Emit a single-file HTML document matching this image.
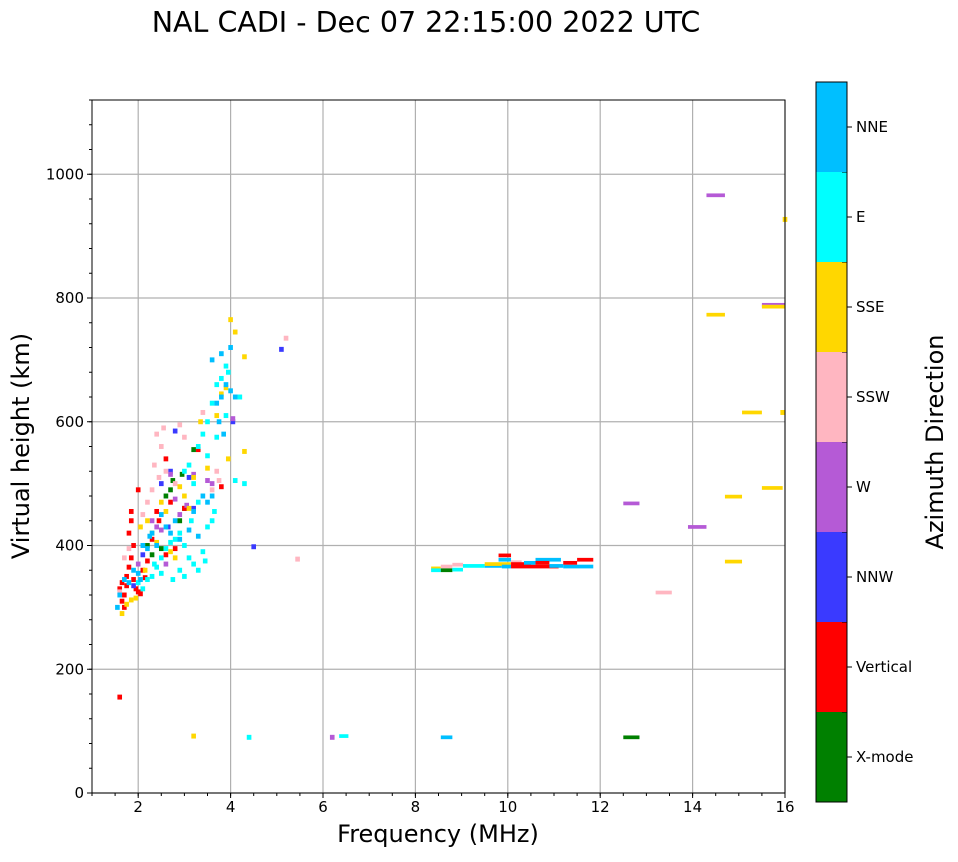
<!DOCTYPE html>
<html><head><meta charset="utf-8"><style>
body{margin:0;background:#fff;font-family:"Liberation Sans",sans-serif}
svg text{font-family:"DejaVu Sans","Liberation Sans",sans-serif}
</style></head><body>
<svg id="chart" width="958" height="857" xmlns="http://www.w3.org/2000/svg">
<text x="426" y="32" font-size="28.5" text-anchor="middle">NAL CADI - Dec 07 22:15:00 2022 UTC</text>
<g id="grid"></g>
<g id="marks"></g>
<rect x="92" y="100" width="693" height="693" fill="none" stroke="#000" stroke-width="1"/>
<g id="axes"></g>
<text x="438" y="842" font-size="24" text-anchor="middle">Frequency (MHz)</text>
<text transform="translate(29,446) rotate(-90)" font-size="24" text-anchor="middle">Virtual height (km)</text>
<g id="cbar"></g>
<text transform="translate(943,442) rotate(-90)" font-size="24" text-anchor="middle">Azimuth Direction</text>
</svg>
<script>
const dirNames=["X-mode","Vertical","NNW","W","SSW","SSE","E","NNE"];
const dirColors=["#008000","#ff0000","#3a3aff","#b55ad6","#ffb6c1","#ffd700","#00ffff","#00bfff"];
const xTicks=[2,4,6,8,10,12,14,16];
const yTicks=[0,200,400,600,800,1000];
// cell points per direction
const xmodeF=[2.2,2.3,2.5,2.6,2.7,2.75,2.9,3.0,2.95,3.2];
const xmodeH=[400,385,395,480,490,505,440,460,515,555];
const vertF=[1.6,1.65,1.7,1.75,1.8,1.85,1.8,1.85,1.9,1.7,1.65,1.75,1.95,2.0,2.05,2.0,2.2,2.3,2.4,2.45,2.6,2.7,2.6,2.8,3.0,3.3,3.8,1.6,1.85,2.1,1.9,2.15];
const vertH=[330,340,320,350,365,380,420,440,400,300,310,335,330,325,322,490,375,410,455,440,540,470,385,395,460,555,495,155,455,360,345,348];
const nnwF=[1.9,2.1,2.5,2.65,2.8,3.1,3.2,4.05,4.5,5.1,2.7];
const nnwH=[335,385,500,430,585,510,460,600,398,717,520];
const wF=[2.3,2.4,2.5,2.7,2.8,2.9,3.2,3.5,3.6,4.05,2.6,2.0,3.05,6.2];
const wH=[440,430,425,515,475,450,515,505,500,605,370,370,465,90];
const sswF=[1.7,1.8,2.2,2.3,2.4,2.5,2.6,2.55,2.8,3.0,2.9,3.4,3.7,3.75,5.2,5.45,2.1,2.35,3.6,1.6,2.45];
const sswH=[380,395,470,490,580,560,520,590,500,575,595,615,520,505,735,378,450,530,490,325,510];
const sseF=[1.65,1.75,1.85,2.05,2.2,2.3,2.4,2.5,2.6,2.7,2.8,2.9,3.0,3.1,3.2,3.5,3.7,3.8,3.9,4.0,4.1,4.3,4.3,3.95,1.95,2.15,3.35,3.2,16.0,15.95];
const sseH=[290,305,312,430,440,420,405,470,455,390,380,495,480,460,510,525,610,645,655,765,745,705,552,540,315,360,600,92,927,615];
const eF=[2.0,2.1,2.2,2.3,2.4,2.5,2.6,2.7,2.8,2.9,3.0,3.1,3.2,3.3,3.4,3.5,3.6,3.3,3.2,3.1,3.0,3.3,3.4,3.5,3.6,3.7,3.8,3.9,3.95,4.2,4.3,3.5,3.7,2.5,2.35,2.9,3.45,3.65,3.9,4.1,3.15,2.75,3.0,4.4];
const eH=[340,330,345,350,365,380,395,405,410,420,400,380,370,360,390,430,440,470,500,530,520,560,580,600,630,660,670,690,680,640,500,545,575,355,370,360,375,455,610,505,440,345,350,90];
const nneF=[1.55,1.6,1.7,1.8,1.9,2.0,2.05,2.1,2.2,2.25,2.3,2.4,2.5,2.6,2.7,2.8,2.9,3.1,3.3,3.5,3.6,3.7,3.8,3.9,4.0,3.75,3.85,4.1,3.6,3.8,4.0,3.4,3.2];
const nneH=[300,320,345,340,360,355,345,400,395,415,420,400,450,430,420,440,410,425,415,470,480,630,640,660,650,600,580,640,700,710,720,480,455];
const cellF=[xmodeF,vertF,nnwF,wF,sswF,sseF,eF,nneF];
const cellH=[xmodeH,vertH,nnwH,wH,sswH,sseH,eH,nneH];
// long traces: start freq, end freq, height, direction index
const segF0=[14.3,15.5,15.5,14.3,15.07,15.5,14.7,12.5,13.9,14.7,13.2,12.5,8.55,6.35,8.34,8.34,8.55,8.55,8.8,8.8,9.03,9.5,9.5,9.87,9.8,9.8,10.07,10.07,10.07,10.35,10.6,10.6,10.9,11.2,11.2,11.5];
const segF1=[14.7,16.0,16.0,14.7,15.5,15.95,15.07,12.85,14.3,15.07,13.55,12.85,8.8,6.55,8.55,8.55,8.8,8.8,9.03,9.03,9.5,9.87,10.07,10.07,10.07,10.07,10.3,10.5,11.1,10.6,11.15,10.9,11.2,11.85,11.5,11.85];
const segH=[966,789,786,773,615,493,479,468,430,374,324,90,90,92,363,360,366,360,369,361,367,367,370,366,384,377,373,370,366,372,377,372,367,366,372,377];
const segDir=[3,3,5,5,5,5,5,3,3,5,4,0,7,6,5,6,4,0,4,6,6,7,5,7,1,7,4,1,1,7,7,1,7,7,1,1];

const X0=92,X1=785,Y0=793,Y1=100,FMIN=1,FMAX=16,HMAX=1120;
const xs=f=>X0+(f-FMIN)/(FMAX-FMIN)*(X1-X0);
const ys=h=>Y0-h/HMAX*(Y0-Y1);
const NS="http://www.w3.org/2000/svg";
function mk(tag,attrs,parent){const e=document.createElementNS(NS,tag);for(const k in attrs)e.setAttribute(k,attrs[k]);parent.appendChild(e);return e;}
const grid=document.getElementById('grid'),marks=document.getElementById('marks'),axes=document.getElementById('axes'),cbar=document.getElementById('cbar');
xTicks.forEach(t=>{const l=mk('line',{x1:xs(t),x2:xs(t),y1:Y1,y2:Y0,stroke:'#b0b0b0','stroke-width':1.2},grid);

});
yTicks.forEach(t=>{const l=mk('line',{x1:X0,x2:X1,y1:ys(t),y2:ys(t),stroke:'#b0b0b0','stroke-width':1.2},grid);

});
const cw=0.1,ch=8;
cellF.forEach((arr,d)=>{arr.forEach((f,i)=>{const h=cellH[d][i];
const r=mk('rect',{x:xs(f-cw/2),y:ys(h+ch/2),width:xs(f+cw/2)-xs(f-cw/2),height:ys(h-ch/2)-ys(h+ch/2),fill:dirColors[d]},marks);

});});
segF0.forEach((f0,i)=>{const h=segH[i];
const r=mk('rect',{x:xs(f0),y:ys(h+3),width:xs(segF1[i])-xs(f0),height:ys(h-3)-ys(h+3),fill:dirColors[segDir[i]]},marks);

});
// ticks
xTicks.forEach(t=>{mk('line',{x1:xs(t),x2:xs(t),y1:Y0,y2:Y0+5,stroke:'#000'},axes);
const tx=mk('text',{x:xs(t),y:Y0+19,'font-size':15,'text-anchor':'middle'},axes);tx.textContent=t;

});
for(let f=1;f<=16.001;f+=0.5){mk('line',{x1:xs(f),x2:xs(f),y1:Y0,y2:Y0+3,stroke:'#000'},axes);}
yTicks.forEach(t=>{mk('line',{x1:X0-5,x2:X0,y1:ys(t),y2:ys(t),stroke:'#000'},axes);
const tx=mk('text',{x:X0-8,y:ys(t)+5,'font-size':15,'text-anchor':'end'},axes);tx.textContent=t;

});
for(let h=0;h<=1120;h+=40){mk('line',{x1:X0-3,x2:X0,y1:ys(h),y2:ys(h),stroke:'#000'},axes);}
// colorbar
const CB0=82,CB1=802,segh=(CB1-CB0)/dirNames.length;
dirNames.forEach((n,i)=>{const top=CB1-(i+1)*segh;
const r=mk('rect',{x:816,y:top,width:31,height:segh,fill:dirColors[i]},cbar);


mk('line',{x1:847,x2:852,y1:top+segh/2,y2:top+segh/2,stroke:'#000'},cbar);
mk('line',{x1:842,x2:847,y1:top,y2:top,stroke:'#000'},cbar);
const tx=mk('text',{x:856,y:top+segh/2+5,'font-size':15},cbar);tx.textContent=n;

});
mk('rect',{x:816,y:CB0,width:31,height:CB1-CB0,fill:'none',stroke:'#000'},cbar);
</script>
</body></html>
